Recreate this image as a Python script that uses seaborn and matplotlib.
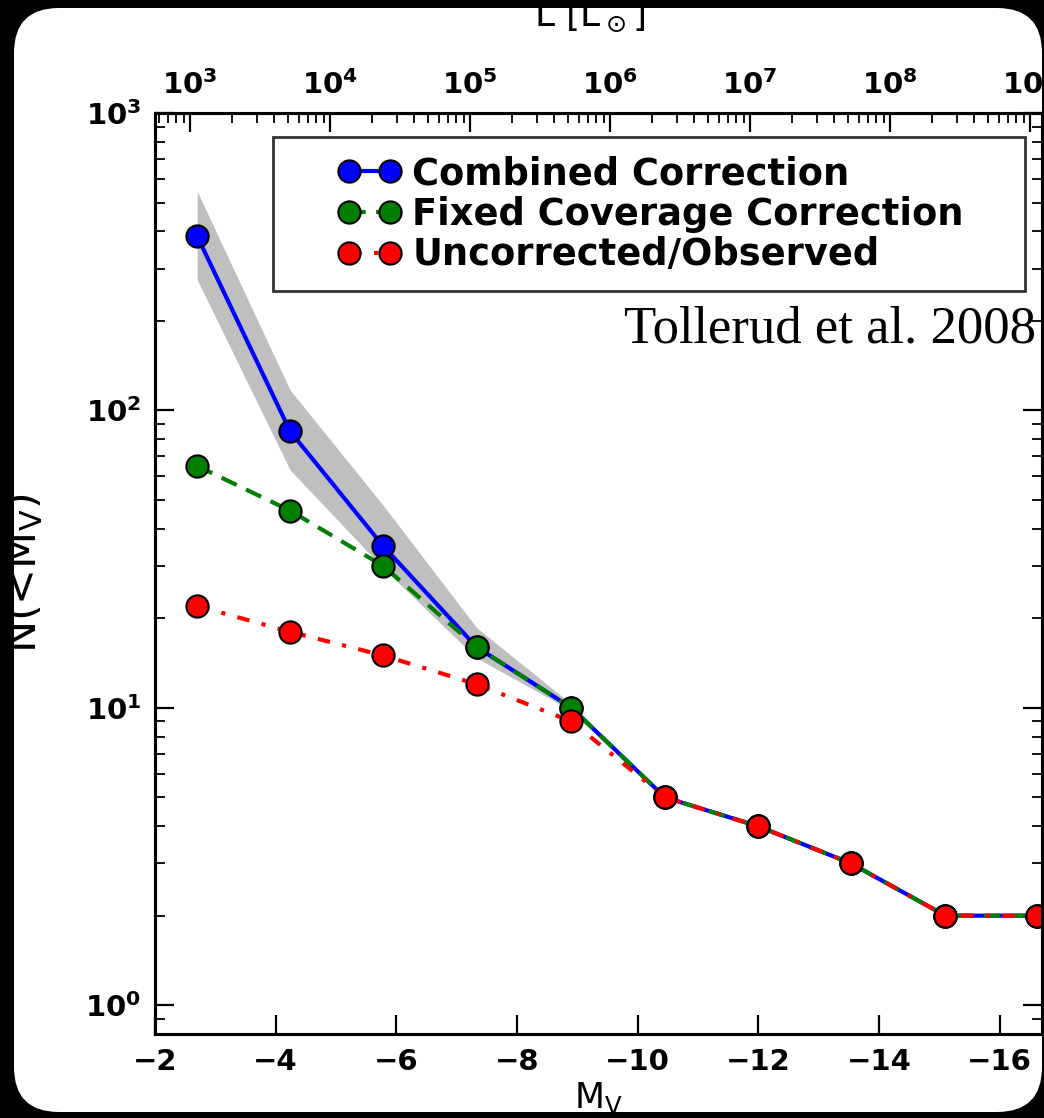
import numpy as np
import matplotlib
matplotlib.use("Agg")
import matplotlib.pyplot as plt
import seaborn as sns
from matplotlib.patches import FancyBboxPatch
from matplotlib.lines import Line2D
from matplotlib.legend_handler import HandlerLine2D
from matplotlib.ticker import FuncFormatter, NullFormatter, LogLocator, FixedLocator

# ---------------- data ----------------
M_V = [-2.70, -4.24, -5.78, -7.33, -8.90, -10.45, -11.99, -13.53, -15.10, -16.62]
combined = [385, 85, 35, 16, 10, 5, 4, 3, 2, 2]
fixed_cov = [65, 46, 30, 16, 10, 5, 4, 3, 2, 2]
observed = [22, 18, 15, 12, 9, 5, 4, 3, 2, 2]
band_upper = [545, 117, 48, 18.6, 10.3, 5, 4, 3, 2, 2]
band_lower = [275, 63, 29.5, 14.7, 9.8, 5, 4, 3, 2, 2]
x_ticks = [-2, -4, -6, -8, -10, -12, -14, -16]
x_ticklabels = ["\u22122", "\u22124", "\u22126", "\u22128", "\u221210", "\u221212", "\u221214", "\u221216"]
lum_exponents = [3, 4, 5, 6, 7, 8, 9]
labels = ["Combined Correction", "Fixed Coverage Correction", "Uncorrected/Observed"]

# ---------------- style ----------------
sns.set_style("ticks")
plt.rcParams["font.family"] = ["DejaVu Sans"]
plt.rcParams["mathtext.fontset"] = "dejavusans"
for k in ["text.color", "axes.labelcolor", "xtick.color", "ytick.color", "axes.edgecolor"]:
    plt.rcParams[k] = "black"

W, H = 1044, 1118
fig = plt.figure(figsize=(W / 100, H / 100), dpi=100)
fig.patch.set_facecolor("black")
bg = FancyBboxPatch((0.14, 0.06), 10.28, 11.04, boxstyle="round,pad=0,rounding_size=0.45",
                    transform=fig.dpi_scale_trans, facecolor="white", edgecolor="none", zorder=-10)
fig.patches.append(bg)

L, R, T, B = 155, 1042, 113, 1034
ax = fig.add_axes([L / W, 1 - B / H, (R - L) / W, (B - T) / H])
ax.set_facecolor("white")
ax.set_zorder(2)

ax.fill_between(M_V, band_lower, band_upper, color="0.75", lw=0, zorder=1)

mk = dict(marker="o", markersize=16, markeredgecolor="black", markeredgewidth=1.5)
sns.lineplot(x=M_V, y=combined, ax=ax, color="#0000ff", lw=3, sort=False,
             errorbar=None, label=labels[0], zorder=3, **mk)
sns.lineplot(x=M_V, y=fixed_cov, ax=ax, color="#007f00", lw=3, sort=False,
             errorbar=None, label=labels[1], zorder=4, **mk)
sns.lineplot(x=M_V, y=observed, ax=ax, color="#ff0000", lw=3, sort=False,
             errorbar=None, label=labels[2], zorder=5, **mk)

lines = ax.get_lines()
lines[1].set_dashes((4, 2.5))
lines[2].set_dashes((3, 3, 1, 3))

ax.set_yscale("log")
ax.set_ylim(0.8, 1000)
ax.set_xlim(-2, -16.70)
ax.set_xticks(x_ticks)
ax.set_xticklabels(x_ticklabels, fontsize=21, fontweight="bold")
ax.yaxis.set_major_locator(LogLocator(base=10, numticks=10))
ax.yaxis.set_minor_locator(LogLocator(base=10, subs=np.arange(2, 10), numticks=20))
ax.yaxis.set_major_formatter(FuncFormatter(lambda v, p: r"$\mathbf{10^{%d}}$" % int(round(np.log10(v)))))
ax.yaxis.set_minor_formatter(NullFormatter())
ax.tick_params(axis="y", which="major", direction="in", length=14, width=1.6, labelsize=21,
               right=True, pad=10)
ax.tick_params(axis="y", which="minor", direction="in", length=7, width=1.3, right=True)
ax.tick_params(axis="x", which="major", direction="in", length=14, width=1.6, top=False, pad=10)
ax.tick_params(axis="x", which="minor", bottom=False, top=False)
for s in ax.spines.values():
    s.set_linewidth(2.2)
    s.set_color("black")

ax.set_ylabel(r"N(<M$_\mathrm{V}$)", fontsize=31)
ax.yaxis.set_label_coords(-0.124, 0.5)
ax.set_xlabel(r"M$_\mathrm{V}$", fontsize=25)
ax.xaxis.set_label_coords(0.5, -0.05)

# top luminosity axis
ax2 = ax.twiny()
ax2.set_xscale("log")
ax2.set_xlim(10 ** 2.75, 10 ** 9.086)
ax2.xaxis.set_major_locator(FixedLocator([10.0 ** e for e in lum_exponents]))
minors = [m * 10.0 ** e for e in range(2, 10) for m in range(2, 10)
          if 10 ** 2.75 <= m * 10.0 ** e <= 10 ** 9.086]
ax2.xaxis.set_minor_locator(FixedLocator(minors))
ax2.xaxis.set_major_formatter(FuncFormatter(lambda v, p: r"$\mathbf{10^{%d}}$" % int(round(np.log10(v)))))
ax2.xaxis.set_minor_formatter(NullFormatter())
ax2.tick_params(axis="x", which="major", direction="in", length=14, width=1.6, labelsize=21, pad=9)
ax2.tick_params(axis="x", which="minor", direction="in", length=7, width=1.3)
for s in ax2.spines.values():
    s.set_linewidth(2.2)
fig.text(590 / W, 1 - 16 / H, r"L [L$_\odot$]", fontsize=26, ha="center", va="center")

x0 = (273 - L) / (R - L)
x1 = (1025 - L) / (R - L)
ytop = (B - 137) / (B - T)
leg = ax.legend(loc="upper left", bbox_to_anchor=(x0, ytop - 0.4, x1 - x0, 0.4), mode="expand",
                borderaxespad=0, handlelength=4.27, handletextpad=-0.98,
                handler_map={Line2D: HandlerLine2D(numpoints=2, marker_pad=1.58)},
                fancybox=False, framealpha=1, edgecolor="#333333", labelspacing=0.1,
                borderpad=0.49, prop={"weight": "bold", "size": 26.5})
leg.get_frame().set_linewidth(2)
leg.set_zorder(10)

ax.text(0.993, 0.751, "Tollerud et al. 2008", transform=ax.transAxes, ha="right",
        va="baseline", fontsize=38, family="Liberation Serif")

fig.savefig("out.png", dpi=100, facecolor=fig.get_facecolor())
